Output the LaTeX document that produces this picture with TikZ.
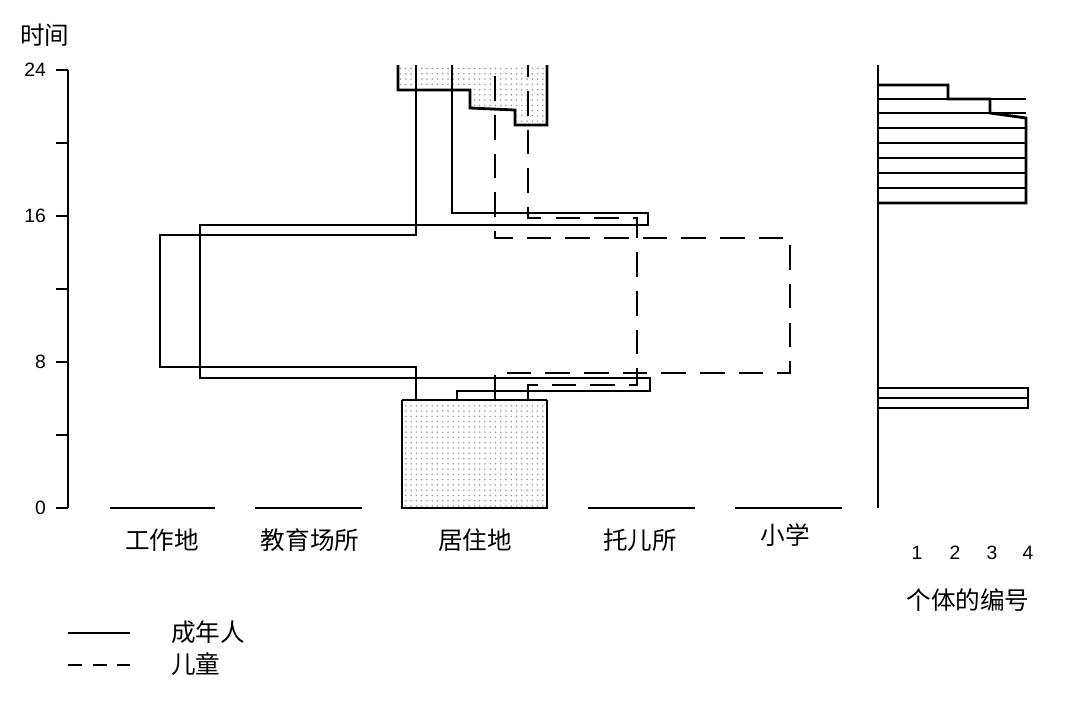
\documentclass[tikz,border=0pt]{standalone}
\usepackage{fontspec}
\setmainfont{Liberation Sans}
\newfontfamily\cjk{Noto Sans CJK SC}
\usetikzlibrary{patterns}

\begin{document}
\begin{tikzpicture}[x=0.02cm,y=-0.02cm,line join=miter]
\useasboundingbox (0,0) rectangle (1080,701);
	% stippled home blocks
	\begin{scope}[pattern=dots, pattern color=gray!80]
		\path[pattern=dots] (398,65) -- (398,90) -- (470,90) -- (470,108) -- (515,110) -- (515,125) -- (547,125) -- (547,65) -- cycle;
		\path[pattern=dots] (402,400) rectangle (547,508);
	\end{scope}
	\begin{scope}[every path/.style={line width=1.6pt}]
		\draw (398,65) -- (398,90) -- (470,90) -- (470,108) -- (515,110) -- (515,125) -- (547,125) -- (547,65);
		\draw (402,400) -- (402,508) -- (547,508) -- (547,400);
		\draw[line width=0.6pt] (402,400) -- (547,400);
		% axes
		\draw (68,70) -- (68,508);
		\foreach \y in {70,143,216,289,362,435,508} \draw (56,\y) -- (68,\y);
		\draw (878,65) -- (878,508);
		\foreach \xa/\xb in {110/215,255/362,588/695,735/842} \draw (\xa,508) -- (\xb,508);
		% adults
		\draw (416,400) -- (416,367) -- (160,367) -- (160,235) -- (416,235) -- (416,65);
		\draw (457,400) -- (457,391) -- (650,391) -- (650,378) -- (200,378) -- (200,225) -- (648,225) -- (648,213) -- (452,213) -- (452,65);
		% children
		\begin{scope}[dashed, dash pattern=on 14pt off 8pt]
			\draw (495,400) -- (495,373) -- (790,373) -- (790,238) -- (495,238) -- (495,65);
			\draw (528,400) -- (528,385) -- (637,385) -- (637,218) -- (528,218) -- (528,65);
		\end{scope}
		% individuals per hour
		\draw (878,85) -- (948,85) -- (948,99) -- (990,99) -- (990,113) -- (1026,118) -- (1026,203) -- (878,203);
		\foreach \y in {99,113,128,143,158,173,188} \draw (878,\y) -- (1026,\y);
		\draw (878,388) -- (1028,388) -- (1028,408) -- (878,408);
		\draw (878,398) -- (1028,398);
		% legend
		\draw (68,633) -- (130,633);
		\draw[dashed, dash pattern=on 8pt off 6pt] (68,665) -- (130,665);
	\end{scope}
	\begin{scope}[every node/.style={font=\cjk\fontsize{14}{16}\selectfont}]
		\node (time) at (45,35) {时间};
		\node (work) at (162,540) {工作地};
		\node (edu) at (310,540) {教育场所};
		\node (home) at (475,540) {居住地};
		\node (care) at (640,540) {托儿所};
		\node (school) at (785,535) {小学};
		\node (indiv) at (968,600) {个体的编号};
		\node[anchor=west] (adult) at (165,632) {成年人};
		\node[anchor=west] (child) at (165,664) {儿童};
	\end{scope}
	\begin{scope}[every node/.style={font=\fontsize{11}{12}\selectfont}]
		\foreach \v/\y in {24/70,16/216,8/362,0/508} \node[anchor=east] (t\v) at (52,\y) {\v};
		\foreach \n/\x in {1/917,2/955,3/992,4/1028} \node (n\n) at (\x,553) {\n};
	\end{scope}
\end{tikzpicture}
\end{document}
